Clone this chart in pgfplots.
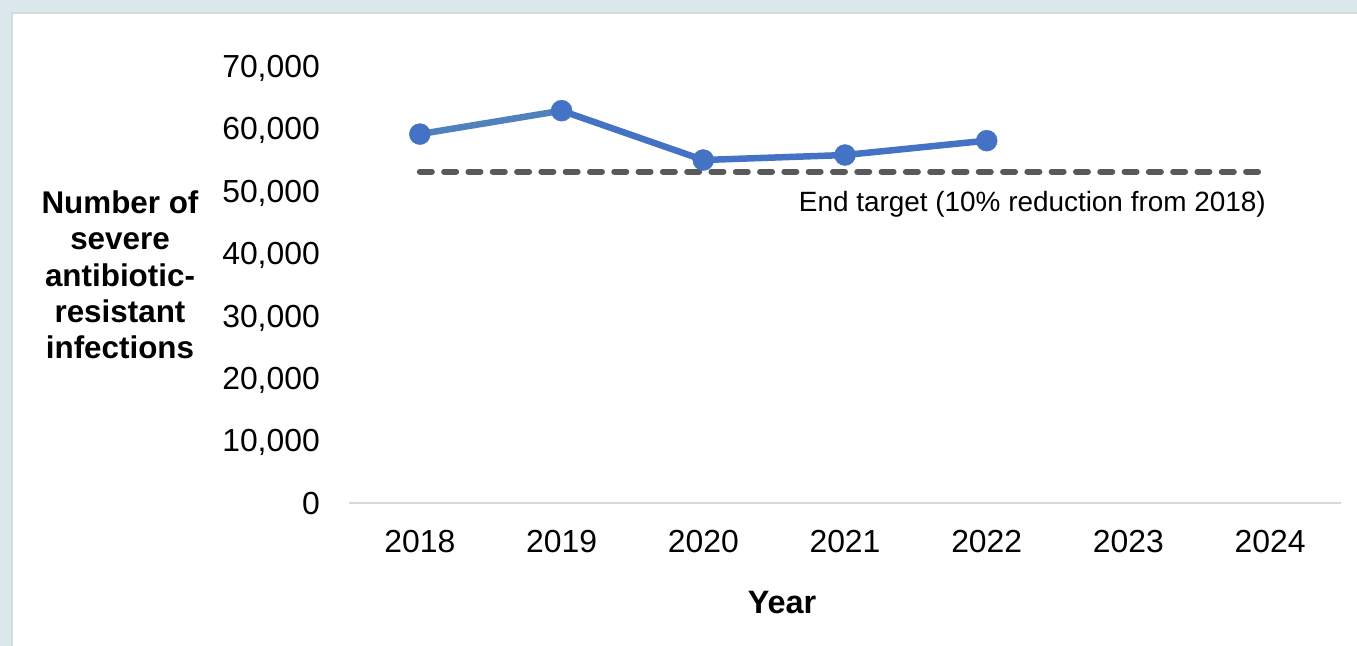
\documentclass[border=0pt]{standalone}
\usepackage{pgfplots}
\pgfplotsset{compat=1.18}
\usepackage{fontspec}
\setmainfont{Liberation Sans}
\definecolor{bgblue}{HTML}{DAE8EC}
\definecolor{edge}{HTML}{D5DADC}
\definecolor{lineblue}{HTML}{4472C4}
\definecolor{lineblueB}{HTML}{4F81BD}
\definecolor{dgray}{HTML}{595959}
\definecolor{axgray}{HTML}{D9D9D9}
\begin{document}
\begin{tikzpicture}
\fill[bgblue] (0bp,0bp) rectangle (1357bp,-646bp);
\fill[white] (11bp,-12bp) rectangle (1357bp,-646bp);
\draw[edge, line width=2bp] (12bp,-646bp) -- (12bp,-13bp) -- (1357bp,-13bp);
\begin{axis}[
  at={(349bp,-503.3bp)}, anchor=south west,
  scale only axis, width=992bp, height=437.3bp,
  xmin=-0.5, xmax=6.5, ymin=0, ymax=70000,
  scaled y ticks=false,
  axis x line*=bottom, axis y line*=left,
  x axis line style={draw=axgray, line width=2bp},
  y axis line style={draw=none},
  major tick length=0pt,
  xtick={0,1,2,3,4,5,6},
  xticklabels={2018,2019,2020,2021,2022,2023,2024},
  ytick={0,10000,20000,30000,40000,50000,60000,70000},
  yticklabels={0,{10,000},{20,000},{30,000},{40,000},{50,000},{60,000},{70,000}},
  xticklabel style={font=\fontsize{32}{38}\selectfont, anchor=center, yshift=-38.4bp, inner sep=0pt, text depth=0pt},
  yticklabel style={font=\fontsize{32}{38}\selectfont, anchor=east, xshift=-29bp, inner sep=0pt, text depth=0pt},
  clip=false,
]
\addplot[dgray, line width=6bp, line cap=round, dash pattern=on 12bp off 12.3bp, forget plot]
  coordinates {(0,53100) (6,53100)};
\addplot[lineblueB, line width=6.5bp, forget plot] coordinates {(0,59100) (1,62850)};
\addplot[lineblue, line width=6.5bp, line join=round, forget plot]
  coordinates {(1,62850) (2,54950) (3,55750) (4,58050)};
\addplot[only marks, mark=*, mark size=10.5bp, mark options={draw=lineblue, fill=lineblue}, forget plot]
  coordinates {(0,59100) (1,62850) (2,54950) (3,55750) (4,58050)};
\node[anchor=base east, inner sep=0pt, font=\fontsize{28}{34}\selectfont] at (axis cs:5.97,46680) {End target (10\% reduction from 2018)};
\end{axis}
\node[align=center, inner sep=0pt, font=\fontsize{31.5}{36.5}\selectfont\bfseries] at (120bp,-275bp) {Number of\\severe\\antibiotic-\\resistant\\infections};
\node[inner sep=0pt, font=\fontsize{32.5}{38}\selectfont\bfseries] at (782bp,-603bp) {Year};
\pgfresetboundingbox
\useasboundingbox (0bp,0bp) rectangle (1357bp,-646bp);
\end{tikzpicture}
\end{document}
